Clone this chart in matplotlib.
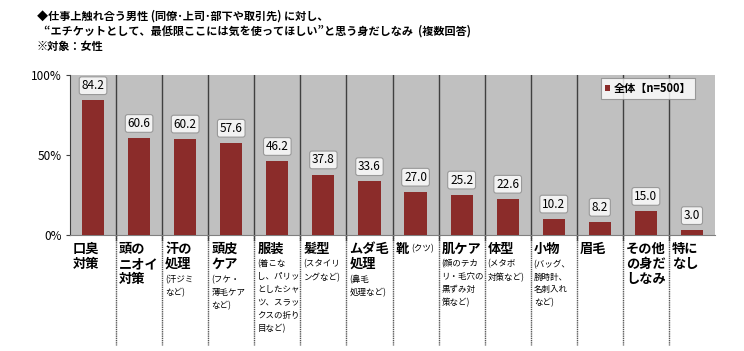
import matplotlib
matplotlib.use("Agg")
import matplotlib.pyplot as plt
from matplotlib.lines import Line2D

plt.rcParams['font.family'] = ['Noto Sans CJK JP', 'DejaVu Sans']

main_labels = ["口臭\n対策", "頭の\nニオイ\n対策", "汗の\n処理", "頭皮\nケア", "服装", "髪型",
               "ムダ毛\n処理", "靴", "肌ケア", "体型", "小物", "眉毛", "その他\nの身だ\nしなみ", "特に\nなし"]
sub_labels = ["", "", "(汗ジミ\nなど)", "(フケ・\n薄毛ケア\nなど)",
              "(着こな\nし、パリッ\nとしたシャ\nツ、スラッ\nクスの折り\n目など)",
              "(スタイリ\nングなど)", "(鼻毛\n処理など)", "(クツ)",
              "(顔のテカ\nリ・毛穴の\n黒ずみ対\n策など)", "(メタボ\n対策など)",
              "(バッグ、\n腕時計、\n名刺入れ\nなど)", "", "", ""]
values = [84.2, 60.6, 60.2, 57.6, 46.2, 37.8, 33.6, 27.0, 25.2, 22.6, 10.2, 8.2, 15.0, 3.0]
yticks = [0, 50, 100]
ytick_labels = ["0%", "50%", "100%"]
legend_label = "全体【n=500】"
title_lines = ["◆仕事上触れ合う男性 (同僚･上司･部下や取引先) に対し、",
               "“エチケットとして、最低限ここには気を使ってほしい”と思う身だしなみ  (複数回答)",
               "※対象：女性"]

W, H = 744, 351
PX = 0.72  # points per pixel at dpi 100
fig = plt.figure(figsize=(W/100, H/100), dpi=100)
fig.patch.set_facecolor('white')
ax = fig.add_axes([70/W, 1-235/H, 645/W, 160/H])
ax.set_facecolor('#C0C0C0')
n = len(values)
xs = list(range(n))
bar_color = '#8B2C2A'
ax.bar(xs, values, width=0.48, color=bar_color, zorder=3, label=legend_label)
ax.set_xlim(-0.5, n-0.5)
ax.set_ylim(0, 100)
ax.set_yticks(yticks)
ax.set_yticklabels(ytick_labels, fontsize=8.5)
ax.set_xticks([])
for s in ['top', 'right']:
    ax.spines[s].set_visible(False)
ax.spines['left'].set_color('#404040')
ax.spines['bottom'].set_color('#808080')
ax.tick_params(axis='y', length=3, color='#404040', pad=3)

# separators
for k in range(1, n):
    ax.axvline(k-0.5, color='#404040', lw=1, zorder=2)
    ax.add_line(Line2D([k-0.5, k-0.5], [0, -0.69], transform=ax.get_xaxis_transform(),
                       color='#555555', lw=1, ls=(0, (1, 0.6)), clip_on=False))
    ax.add_line(Line2D([k-0.5, k-0.5], [0, -0.03], transform=ax.get_xaxis_transform(),
                       color='#404040', lw=1, clip_on=False))

# value labels
for x, v in zip(xs, values):
    ax.annotate(f"{v:.1f}", (x, v), xytext=(0, 10.5), textcoords='offset points',
                ha='center', va='center', fontsize=8.5, zorder=5,
                bbox=dict(boxstyle='round,pad=0.2', fc='#F2F2F2', ec='#999999', lw=0.8))

# category labels
for x, m, s in zip(xs, main_labels, sub_labels):
    if m == "靴":
        ax.annotate(m, (x-0.5, 0), xytext=(3*PX, -7*PX), textcoords='offset points',
                    ha='left', va='top', fontsize=9.5, fontweight='bold', annotation_clip=False)
        ax.annotate(s, (x-0.5, 0), xytext=(19*PX, -9*PX), textcoords='offset points',
                    ha='left', va='top', fontsize=6.1, annotation_clip=False)
        continue
    nl = m.count("\n") + 1
    ax.annotate(m, (x-0.5, 0), xytext=(3*PX, -7*PX), textcoords='offset points',
                ha='left', va='top', fontsize=9.5, fontweight='bold', linespacing=1.1,
                annotation_clip=False)
    if s:
        ax.annotate(s, (x-0.5, 0), xytext=(3*PX, -(9 + 15.5*nl)*PX), textcoords='offset points',
                    ha='left', va='top', fontsize=6.1, linespacing=1.55, annotation_clip=False)

# legend
leg = ax.legend(loc='upper right', bbox_to_anchor=(0.969, 0.98), borderaxespad=0,
                frameon=True, fancybox=False, handlelength=0.5, handleheight=0.5,
                handletextpad=0.3, borderpad=0.35, prop={'weight': 'bold', 'size': 8})
leg.get_frame().set_edgecolor('#888888')
leg.get_frame().set_linewidth(0.8)

# titles
fig.text(37/W, 1-16/H, title_lines[0], fontsize=8, fontweight='bold', va='center', ha='left')
fig.text(44/W, 1-31/H, title_lines[1], fontsize=8, fontweight='bold', va='center', ha='left')
fig.text(37/W, 1-46/H, title_lines[2], fontsize=8, fontweight='bold', va='center', ha='left')

fig.savefig("out.png", dpi=100)
